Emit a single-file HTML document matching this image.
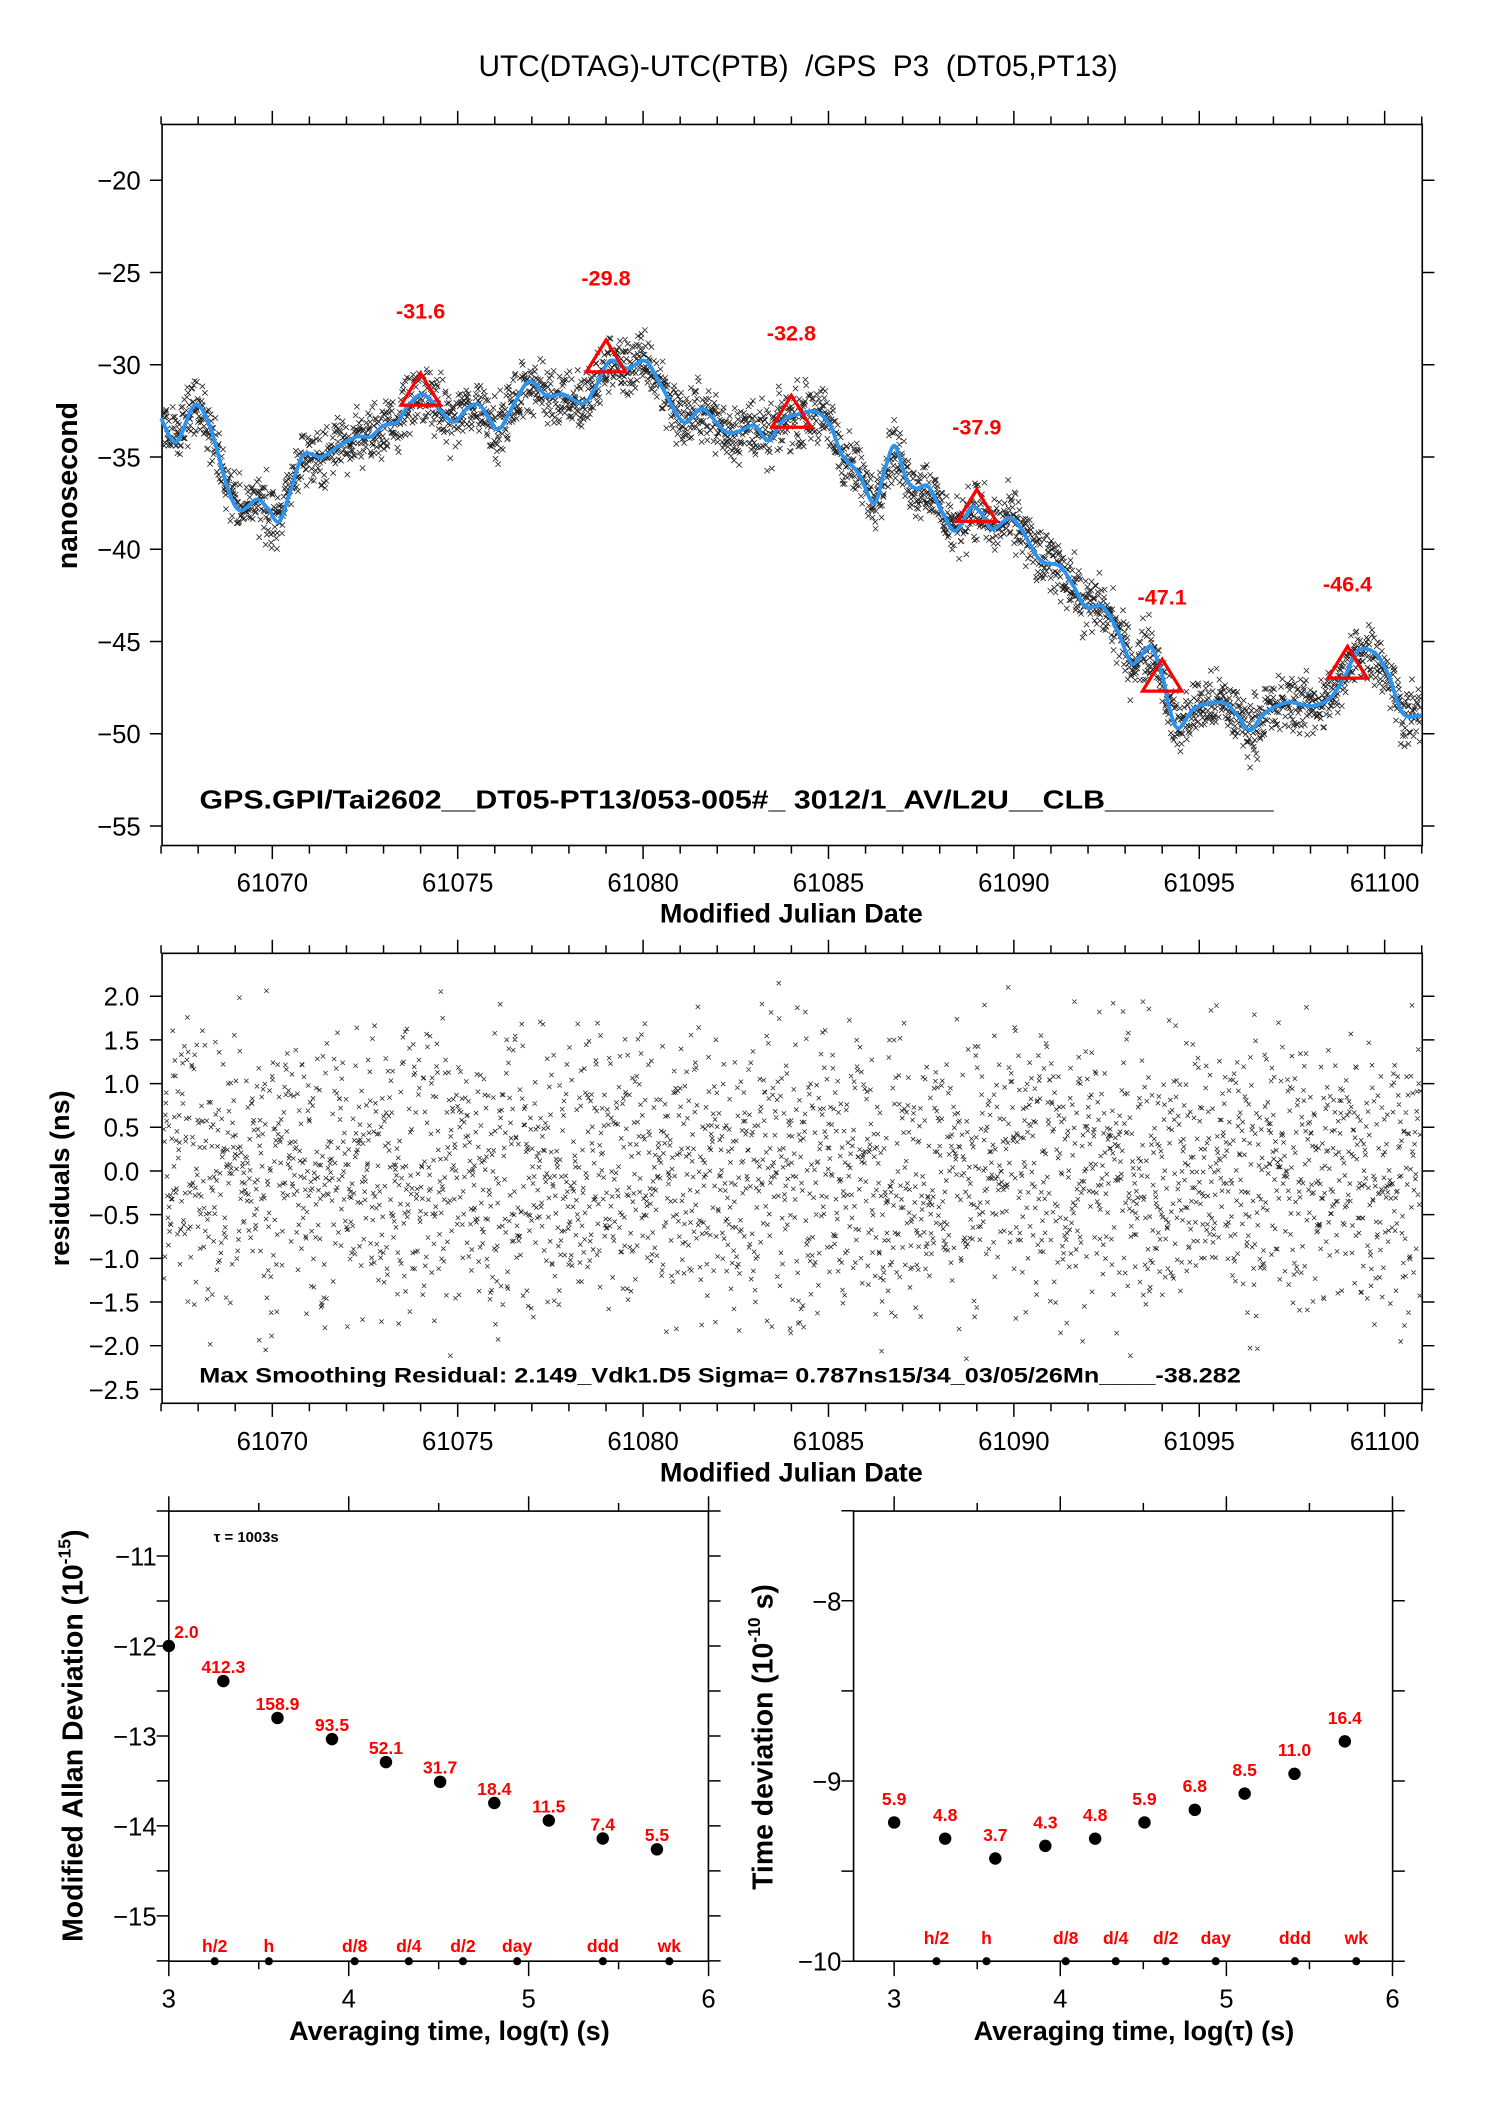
<!DOCTYPE html>
<html>
<head>
<meta charset="utf-8">
<style>
html,body{margin:0;padding:0;background:#fff;}
svg{display:block;}
text{font-family:"Liberation Sans",Arial,sans-serif;}
.tk{font-size:19px;fill:#000;}
.bt{font-weight:bold;fill:#000;}
.rd{font-weight:bold;fill:#ff0000;}
</style>
</head>
<body>
<svg id="chart" xmlns="http://www.w3.org/2000/svg" width="1488" height="2105" viewBox="0 0 1100 1556" preserveAspectRatio="none">
<rect x="0" y="0" width="1100" height="1556" fill="#fff"/>
<text x="590" y="56" text-anchor="middle" font-size="22" fill="#000" xml:space="preserve">UTC(DTAG)-UTC(PTB)  /GPS  P3  (DT05,PT13)</text>
<g id="top"></g>
<g id="mid"></g>
<g id="bl"></g>
<g id="br"></g>
</svg>
<script>
// ---- Top panel data: smoothed curve (MJD, ns) ----
const smoothMjd = [61067.0,61067.41,61067.9,61068.31,61068.8,61069.13,61069.58,61069.88,61070.18,61070.48,61070.84,61071.33,61071.8,61072.29,61072.65,61073.0,61073.37,61073.67,61074.04,61074.4,61074.88,61075.24,61075.6,61076.08,61076.5,61076.93,61077.41,61077.83,61078.37,61078.67,61079.1,61079.58,61080.06,61080.48,61081.08,61081.6,61082.2,61082.6,61083.0,61083.38,61083.76,61084.15,61084.67,61085.05,61085.37,61085.82,61086.23,61086.53,61086.79,61087.1,61087.37,61087.69,61088.07,61088.42,61088.85,61089.1,61089.43,61089.88,61090.2,61090.71,61091.23,61091.61,61091.93,61092.38,61092.77,61093.16,61093.41,61093.7,61094.0,61094.19,61094.44,61094.89,61095.6,61095.99,61096.37,61096.76,61097.4,61098.05,61098.56,61098.95,61099.27,61099.72,61100.1,61100.49,61101.0];
const smoothNs = [-32.9,-34.2,-32.2,-33.3,-36.7,-37.9,-37.3,-37.8,-38.5,-36.9,-34.9,-35.0,-34.4,-33.9,-33.9,-33.3,-33.1,-32.2,-31.6,-32.2,-33.1,-32.4,-32.2,-33.5,-32.2,-30.9,-31.7,-31.6,-32.1,-31.4,-29.8,-30.2,-29.8,-31.1,-33.1,-32.4,-33.6,-33.6,-33.3,-34.1,-33.05,-32.7,-32.55,-33.3,-34.9,-35.9,-37.5,-35.6,-34.4,-36.2,-36.7,-36.6,-38.0,-39.0,-37.75,-38.0,-38.9,-38.3,-38.9,-40.6,-40.9,-42.0,-43.1,-43.1,-44.3,-46.15,-45.8,-45.3,-46.8,-48.6,-49.7,-48.6,-48.3,-48.9,-49.8,-48.9,-48.3,-48.5,-48.0,-46.8,-45.5,-45.6,-46.8,-48.9,-49.0];
const weeklyMjd = [61074,61079,61084,61089,61094,61099];
const weeklyNs = [-31.6,-29.8,-32.8,-37.9,-47.1,-46.4];
const weeklyLabels = ["-31.6","-29.8","-32.8","-37.9","-47.1","-46.4"];
const topYTicks = [-20,-25,-30,-35,-40,-45,-50,-55];
const mjdTicks = [61070,61075,61080,61085,61090,61095,61100];
const midYTicks = [2.0,1.5,1.0,0.5,0.0,-0.5,-1.0,-1.5,-2.0,-2.5];
// residual sample settings (scatter texture, sigma ~0.787 ns, sampling tau 1003 s)
const sampleStepSec = 1003;
const residualSigma = 0.787;
const residualMax = 2.149;
// ---- Allan panel data ----
const logTau = [3.0,3.303,3.604,3.907,4.207,4.508,4.809,5.112,5.412,5.713];
const modAdev = [-12.0,-12.39,-12.80,-13.035,-13.29,-13.51,-13.745,-13.94,-14.14,-14.26];
const modAdevLabels = ["2.0","412.3","158.9","93.5","52.1","31.7","18.4","11.5","7.4","5.5"];
const tdevLogTau = [3.0,3.307,3.609,3.91,4.21,4.507,4.81,5.11,5.41,5.713];
const tdev = [-9.23,-9.32,-9.43,-9.36,-9.32,-9.23,-9.16,-9.07,-8.96,-8.78];
const tdevLabels = ["5.9","4.8","3.7","4.3","4.8","5.9","6.8","8.5","11.0","16.4"];
const markerNames = ["h/2","h","d/8","d/4","d/2","day","ddd","wk"];
const markerLog = [3.255,3.556,4.033,4.334,4.635,4.936,5.413,5.782];
const adevYTicks = [-11,-12,-13,-14,-15];
const tdevYTicks = [-8,-9,-10];
const logTicks = [3,4,5,6];

const NS="http://www.w3.org/2000/svg";
function mk(parent,tag,attrs,txt){const e=document.createElementNS(NS,tag);for(const k in attrs)e.setAttribute(k,attrs[k]);if(txt!==undefined)e.textContent=txt;parent.appendChild(e);return e;}

const X=m=>201.3+(m-61070)*27.41;
const Yt=v=>133.2-(v+20)*13.64;
const Ym=v=>736.4-(v-2)*64.58;
const Xl=t=>124.8+(t-3)*133;
const Yl=v=>1150.2-(v+11)*66.5;
const Xr=t=>661+(t-3)*122.8;
const Yr=v=>1183.3-(v+8)*133.2;
const FX0=119.8,FX1=1051.4;

function frame(g,x0,y0,x1,y1,name){
  const r=mk(g,'rect',{x:x0,y:y0,width:x1-x0,height:y1-y0,fill:'none',stroke:'#000','stroke-width':1.2});
  
  
}
function lines(g,d,name,w){const p=mk(g,'path',{d:d,stroke:'#000','stroke-width':w||1.1,fill:'none'});return p;}

let seed=20260305;
function rnd(){seed=(seed*1103515245+12345)%2147483648;return seed/2147483648;}
function interp(m){
  for(let i=1;i<smoothMjd.length;i++){if(m<=smoothMjd[i]){const a=smoothMjd[i-1],b=smoothMjd[i];const f=(m-a)/(b-a);return smoothNs[i-1]+f*(smoothNs[i]-smoothNs[i-1]);}}
  return smoothNs[smoothNs.length-1];
}
const sampMjd=[],sampRes=[];
for(let m=61067.0;m<=61101.0;m+=sampleStepSec/86400){
  let r=(rnd()+rnd()+rnd()-1.5)*2*residualSigma;
  if(r>residualMax)r=residualMax; if(r<-residualMax)r=-residualMax;
  sampMjd.push(m);sampRes.push(r);
}
function smoothPath(xs,ys){
  let d='M'+xs[0].toFixed(2)+','+ys[0].toFixed(2);
  for(let i=0;i<xs.length-1;i++){
    const x0=xs[Math.max(i-1,0)],y0=ys[Math.max(i-1,0)],x1=xs[i],y1=ys[i],x2=xs[i+1],y2=ys[i+1],x3=xs[Math.min(i+2,xs.length-1)],y3=ys[Math.min(i+2,xs.length-1)];
    const c1x=x1+(x2-x0)/6,c1y=y1+(y2-y0)/6,c2x=x2-(x3-x1)/6,c2y=y2-(y3-y1)/6;
    d+='C'+c1x.toFixed(2)+','+c1y.toFixed(2)+' '+c2x.toFixed(2)+','+c2y.toFixed(2)+' '+x2.toFixed(2)+','+y2.toFixed(2);
  }
  return d;
}
function mjdAxis(g,y0,y1,labY,titleY){
  let dmaj='',dmin='';
  for(let m=61067;m<=61101;m++){
    const x=X(m);const maj=(m%5===0);const L=maj?10:6;
    const s=`M${x},${y0}v${-L}M${x},${y1}v${L}`;
    if(maj)dmaj+=s;else dmin+=s;
  }
  lines(g,dmaj,'x-major-ticks');lines(g,dmin,'x-minor-ticks');
  mjdTicks.forEach(m=>{const t=mk(g,'text',{x:X(m),y:labY,'text-anchor':'middle',class:'tk'},String(m));
    
    });
  const tt=mk(g,'text',{x:585,y:titleY,'text-anchor':'middle',class:'bt','font-size':20},'Modified Julian Date');
  
  
}

// ===== TOP PANEL =====
(function(){
  const g=document.getElementById('top');
  const y0=92,y1=625;
  frame(g,FX0,y0,FX1,y1,'top-plot-frame');
  mjdAxis(g,y0,y1,659,682);
  let d='';
  topYTicks.forEach(v=>{const y=Yt(v);d+=`M${FX0},${y}h-9M${FX1},${y}h9`;
    const t=mk(g,'text',{x:104,y:y+7,'text-anchor':'end',class:'tk'},'\u2212'+Math.abs(v));
    
    });
  lines(g,d,'y-ticks');
  const yt=mk(g,'text',{x:0,y:0,transform:'translate(57,359) rotate(-90)','text-anchor':'middle',class:'bt','font-size':21},'nanosecond');
  
  
  let sd='';
  for(let i=0;i<sampMjd.length;i++){const x=X(sampMjd[i]),y=Yt(interp(sampMjd[i])+sampRes[i]);
    if(x<FX0+1||x>FX1-1)continue;
    sd+=`M${(x-2).toFixed(1)},${(y-2).toFixed(1)}l4,4M${(x-2).toFixed(1)},${(y+2).toFixed(1)}l4,-4`;}
  const sp=mk(g,'path',{d:sd,stroke:'#222','stroke-width':0.6,fill:'none'});
  
  
  const bp=mk(g,'path',{d:smoothPath(smoothMjd.map(X),smoothNs.map(Yt)),stroke:'#2b93f0','stroke-width':2.8,fill:'none'});
  
  
  weeklyMjd.forEach((m,i)=>{const x=X(m),y=Yt(weeklyNs[i]);
    const tr=mk(g,'path',{d:`M${x},${y-15.5}L${x+14.5},${y+8}L${x-14.5},${y+8}Z`,fill:'none',stroke:'#ff0000','stroke-width':2.4});
    
    
    const lb=mk(g,'text',{x:x,y:y-56,'text-anchor':'middle',class:'rd','font-size':16},weeklyLabels[i]);
    
    });
  const info=mk(g,'text',{x:147.5,y:597.5,class:'bt','font-size':19,textLength:794,lengthAdjust:'spacingAndGlyphs'},'GPS.GPI/Tai2602__DT05-PT13/053-005#_  3012/1_AV/L2U__CLB__________');
  info.setAttribute('xml:space','preserve');
  
  
})();

// ===== MIDDLE PANEL =====
(function(){
  const g=document.getElementById('mid');
  const y0=704.7,y1=1037.3;
  frame(g,FX0,y0,FX1,y1,'residual-plot-frame');
  mjdAxis(g,y0,y1,1072,1095);
  let d='';
  midYTicks.forEach(v=>{const y=Ym(v);d+=`M${FX0},${y}h-9M${FX1},${y}h9`;
    const s=(v<0?'\u2212':'')+Math.abs(v).toFixed(1);
    const t=mk(g,'text',{x:103,y:y+7,'text-anchor':'end',class:'tk'},s);
    
    });
  lines(g,d,'y-ticks');
  const yt=mk(g,'text',{x:0,y:0,transform:'translate(51,871) rotate(-90)','text-anchor':'middle',class:'bt','font-size':20},'residuals (ns)');
  
  
  let sd='';
  for(let i=0;i<sampMjd.length;i++){const x=X(sampMjd[i]),y=Ym(sampRes[i]);
    if(x<FX0+1||x>FX1-1)continue;
    sd+=`M${(x-1.6).toFixed(1)},${(y-1.6).toFixed(1)}l3.2,3.2M${(x-1.6).toFixed(1)},${(y+1.6).toFixed(1)}l3.2,-3.2`;}
  const sp=mk(g,'path',{d:sd,stroke:'#222','stroke-width':0.55,fill:'none'});
  
  
  const info=mk(g,'text',{x:147.3,y:1022,class:'bt','font-size':16,textLength:770,lengthAdjust:'spacingAndGlyphs'},'Max Smoothing Residual: 2.149_Vdk1.D5  Sigma= 0.787ns15/34_03/05/26Mn____-38.282');
  info.setAttribute('xml:space','preserve');
  
  
})();

// ===== BOTTOM PANELS =====
function logPanel(g,XS,YS,x0,x1,yTop,yBot,vTop,vBot,yTicks,labelDx,xs,ys,labels,labOff,firstRight,markY){
  const y0=1117,y1=1449.7;
  frame(g,x0,y0,x1,y1,'panel-frame');
  let d='';
  for(let t=3;t<=6;t+=0.5){const x=XS(t);if(x<x0-0.5)continue;const L=(t%1===0)?11:6;d+=`M${x},${y0}v${-L}M${x},${y1}v${L}`;}
  for(let v=Math.ceil(vBot*2)/2;v<=vTop+1e-9;v+=0.5){const y=YS(v);d+=`M${x0},${y}h-9M${x1},${y}h9`;}
  lines(g,d,'axis-ticks');
  logTicks.forEach(t=>{const l=mk(g,'text',{x:XS(t),y:1484,'text-anchor':'middle',class:'tk','font-size':20},String(t));
    
    });
  yTicks.forEach(v=>{const l=mk(g,'text',{x:x0-labelDx,y:YS(v)+7,'text-anchor':'end',class:'tk','font-size':20},'\u2212'+Math.abs(v));
    
    });
  const xt=mk(g,'text',{x:(x0+x1)/2+8,y:1508,'text-anchor':'middle',class:'bt','font-size':20},'Averaging time, log(\u03c4) (s)');
  
  
  xs.forEach((t,i)=>{const c=mk(g,'circle',{cx:XS(t),cy:YS(ys[i]),r:4.6,fill:'#000'});
    
    
    const first=(i===0&&firstRight);
    const l=mk(g,'text',{x:XS(t)+(first?4:0),y:YS(ys[i])-labOff,'text-anchor':first?'start':'middle',class:'rd','font-size':13},labels[i]);
    
    });
  markerLog.forEach((t,i)=>{const c=mk(g,'circle',{cx:XS(t),cy:y1,r:3,fill:'#000'});
    
    
    const l=mk(g,'text',{x:XS(t),y:markY,'text-anchor':'middle',class:'rd','font-size':13},markerNames[i]);
    
    });
}
(function(){
  const g=document.getElementById('bl');
  logPanel(g,Xl,Yl,124.8,523.7,1117,1449.7,-10.5,-15.5,adevYTicks,9,logTau,modAdev,modAdevLabels,6,true,1443);
  const tau=mk(g,'text',{x:158,y:1140,class:'bt','font-size':11},'\u03c4 = 1003s');
  
  
  const yt=mk(g,'text',{x:0,y:0,transform:'translate(61,1283) rotate(-90)','text-anchor':'middle',class:'bt','font-size':21});
  
  
  mk(yt,'tspan',{},'Modified Allan Deviation (10');
  mk(yt,'tspan',{'font-size':13,dy:-9},'-15');
  mk(yt,'tspan',{dy:9},')');
})();
(function(){
  const g=document.getElementById('br');
  logPanel(g,Xr,Yr,631,1029.5,1117,1449.7,-7.5,-10,tdevYTicks,9,tdevLogTau,tdev,tdevLabels,13,false,1437);
  const yt=mk(g,'text',{x:0,y:0,transform:'translate(571,1284) rotate(-90)','text-anchor':'middle',class:'bt','font-size':21});
  
  
  mk(yt,'tspan',{},'Time deviation (10');
  mk(yt,'tspan',{'font-size':13,dy:-9},'-10');
  mk(yt,'tspan',{dy:9},' s)');
})();
</script>
</body>
</html>
